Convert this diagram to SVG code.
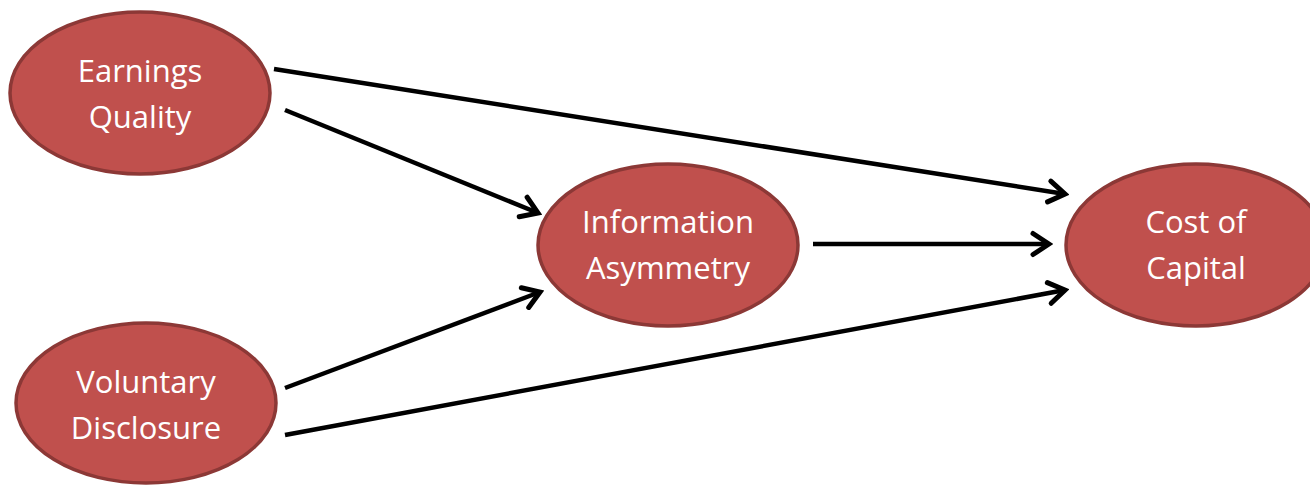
<svg xmlns="http://www.w3.org/2000/svg" width="1310" height="485" viewBox="0 0 1310 485">
<style>
.node ellipse{fill:#C0504D;stroke:#8C3836;stroke-width:3.5}
.node text{font-family:"Open Sans","Noto Sans","Liberation Sans",sans-serif;font-size:31px;fill:#FFFFFF;text-anchor:middle}
.edge{stroke:#000;stroke-width:4.5;fill:none;marker-end:url(#arr)}
</style>
<defs>
<marker id="arr" markerUnits="userSpaceOnUse" viewBox="-20 -14 24 28" markerWidth="24" markerHeight="28" refX="0" refY="0" orient="auto">
<path d="M-16,-10.5 L0,0 L-16,10.5" fill="none" stroke="#000" stroke-width="5" stroke-linecap="round" stroke-linejoin="miter"/>
</marker>
</defs>
<rect width="1310" height="485" fill="#FFFFFF"/>
<g id="connectors">
<line class="edge" x1="274" y1="69" x2="1065" y2="194"/>
<line class="edge" x1="285" y1="110" x2="538" y2="213"/>
<line class="edge" x1="285" y1="388" x2="540" y2="292"/>
<line class="edge" x1="285" y1="435" x2="1065" y2="290"/>
<line class="edge" x1="813" y1="244" x2="1049" y2="244"/>
</g>
<g id="earnings-quality" class="node">
<ellipse cx="140" cy="93" rx="130" ry="81"/>
<text x="140" y="82">Earnings</text>
<text x="140" y="128">Quality</text>
</g>
<g id="information-asymmetry" class="node">
<ellipse cx="668" cy="245" rx="130" ry="81"/>
<text x="668" y="233">Information</text>
<text x="668" y="279">Asymmetry</text>
</g>
<g id="cost-of-capital" class="node">
<ellipse cx="1196" cy="245" rx="130" ry="81"/>
<text x="1196" y="233">Cost of</text>
<text x="1196" y="279">Capital</text>
</g>
<g id="voluntary-disclosure" class="node">
<ellipse cx="146" cy="403" rx="130" ry="80"/>
<text x="146" y="393">Voluntary</text>
<text x="146" y="439">Disclosure</text>
</g>
</svg>
